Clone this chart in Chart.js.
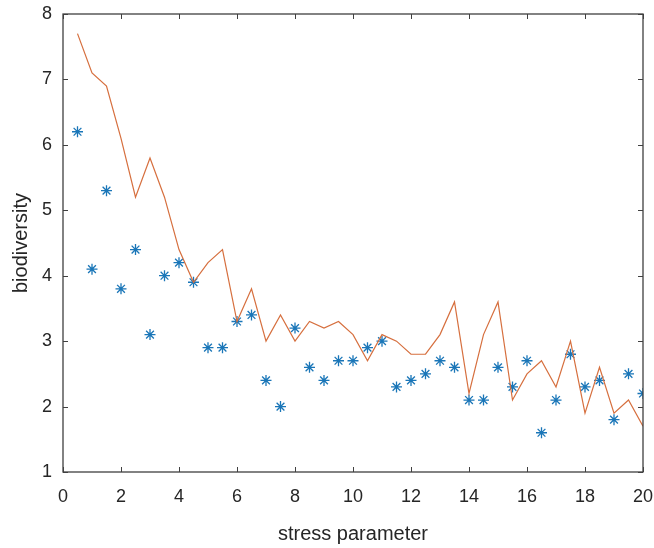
<!DOCTYPE html>
<html>
<head>
<meta charset="utf-8">
<script src="https://cdn.jsdelivr.net/npm/chart.js@4"></script>
<style>
  html, body { margin: 0; padding: 0; background: #fff; }
  #wrap { width: 654px; height: 548px; }
</style>
</head>
<body>
<div id="wrap"><canvas id="myChart" width="654" height="548"></canvas></div>
<script>
// stress parameter values
var stress = [0.5, 1, 1.5, 2, 2.5, 3, 3.5, 4, 4.5, 5,
              5.5, 6, 6.5, 7, 7.5, 8, 8.5, 9, 9.5, 10,
              10.5, 11, 11.5, 12, 12.5, 13, 13.5, 14, 14.5, 15,
              15.5, 16, 16.5, 17, 17.5, 18, 18.5, 19, 19.5, 20];

// measured biodiversity (asterisks)
var measured = [6.2, 4.1, 5.3, 3.8, 4.4, 3.1, 4.0, 4.2, 3.9, 2.9,
                2.9, 3.3, 3.4, 2.4, 2.0, 3.2, 2.6, 2.4, 2.7, 2.7,
                2.9, 3.0, 2.3, 2.4, 2.5, 2.7, 2.6, 2.1, 2.1, 2.6,
                2.3, 2.7, 1.6, 2.1, 2.8, 2.3, 2.4, 1.8, 2.5, 2.2];

// model curve (orange line)
var model = [7.7, 7.1, 6.9, 6.1, 5.2, 5.8, 5.2, 4.4, 3.9, 4.2,
             4.4, 3.3, 3.8, 3.0, 3.4, 3.0, 3.3, 3.2, 3.3, 3.1,
             2.7, 3.1, 3.0, 2.8, 2.8, 3.1, 3.6, 2.2, 3.1, 3.6,
             2.1, 2.5, 2.7, 2.3, 3.0, 1.9, 2.6, 1.9, 2.1, 1.7];

var xTicks = [0, 2, 4, 6, 8, 10, 12, 14, 16, 18, 20];
var yTicks = [1, 2, 3, 4, 5, 6, 7, 8];

function pairs(xs, ys) {
  return xs.map(function (x, i) { return { x: x, y: ys[i] }; });
}

var axisColor = '#404040';
var textColor = '#262626';

// matlab style box with inward ticks on all four sides
var boxPlugin = {
  id: 'box',
  afterDraw: function (chart) {
    var ctx = chart.ctx;
    var a = chart.chartArea;
    var sx = chart.scales.x, sy = chart.scales.y;
    var len = 5;
    ctx.save();
    ctx.strokeStyle = axisColor;
    ctx.lineWidth = 1.3;
    ctx.strokeRect(a.left, a.top, a.right - a.left, a.bottom - a.top);
    ctx.lineWidth = 1;
    ctx.beginPath();
    xTicks.forEach(function (v) {
      var px = Math.round(sx.getPixelForValue(v)) + 0.5;
      ctx.moveTo(px, a.bottom); ctx.lineTo(px, a.bottom - len);
      ctx.moveTo(px, a.top); ctx.lineTo(px, a.top + len);
    });
    yTicks.forEach(function (v) {
      var py = Math.round(sy.getPixelForValue(v)) + 0.5;
      ctx.moveTo(a.left, py); ctx.lineTo(a.left + len, py);
      ctx.moveTo(a.right, py); ctx.lineTo(a.right - len, py);
    });
    ctx.stroke();
    ctx.restore();
  }
};

new Chart(document.getElementById('myChart'), {
  type: 'scatter',
  data: {
    datasets: [
      {
        label: 'model',
        data: pairs(stress, model),
        showLine: true,
        borderColor: '#D66F3E',
        borderWidth: 1.2,
        pointRadius: 0,
        tension: 0,
        order: 1
      },
      {
        label: 'measured',
        data: pairs(stress, measured),
        pointStyle: 'star',
        pointRadius: 5.5,
        borderColor: '#1A76B8',
        backgroundColor: '#1A76B8',
        pointBorderWidth: 1.3,
        order: 2
      }
    ]
  },
  options: {
    responsive: false,
    animation: false,
    layout: { padding: { top: 14, right: 11, left: 0, bottom: 0 } },
    plugins: {
      legend: { display: false },
      tooltip: { enabled: false }
    },
    scales: {
      x: {
        type: 'linear',
        min: 0, max: 20,
        afterFit: function (s) { s.height = 76; s.paddingLeft = 0; s.paddingRight = 0; },
        afterBuildTicks: function (s) { s.ticks = xTicks.map(function (v) { return { value: v }; }); },
        grid: { display: false, drawTicks: false },
        border: { display: false },
        ticks: {
          padding: 14,
          color: textColor,
          font: { family: 'Liberation Sans', size: 18 }
        },
        title: {
          display: true,
          text: 'stress parameter',
          color: textColor,
          font: { family: 'Liberation Sans', size: 20 },
          padding: { top: 0, bottom: 2 }
        }
      },
      y: {
        type: 'linear',
        min: 1, max: 8,
        afterFit: function (s) { s.width = 63; s.paddingTop = 0; s.paddingBottom = 0; },
        afterBuildTicks: function (s) { s.ticks = yTicks.map(function (v) { return { value: v }; }); },
        grid: { display: false, drawTicks: false },
        border: { display: false },
        ticks: {
          padding: 11,
          color: textColor,
          font: { family: 'Liberation Sans', size: 18 }
        },
        title: {
          display: true,
          text: 'biodiversity',
          color: textColor,
          font: { family: 'Liberation Sans', size: 20 },
          padding: { top: 9, bottom: 0 }
        }
      }
    }
  },
  plugins: [boxPlugin]
});
</script>
</body>
</html>
